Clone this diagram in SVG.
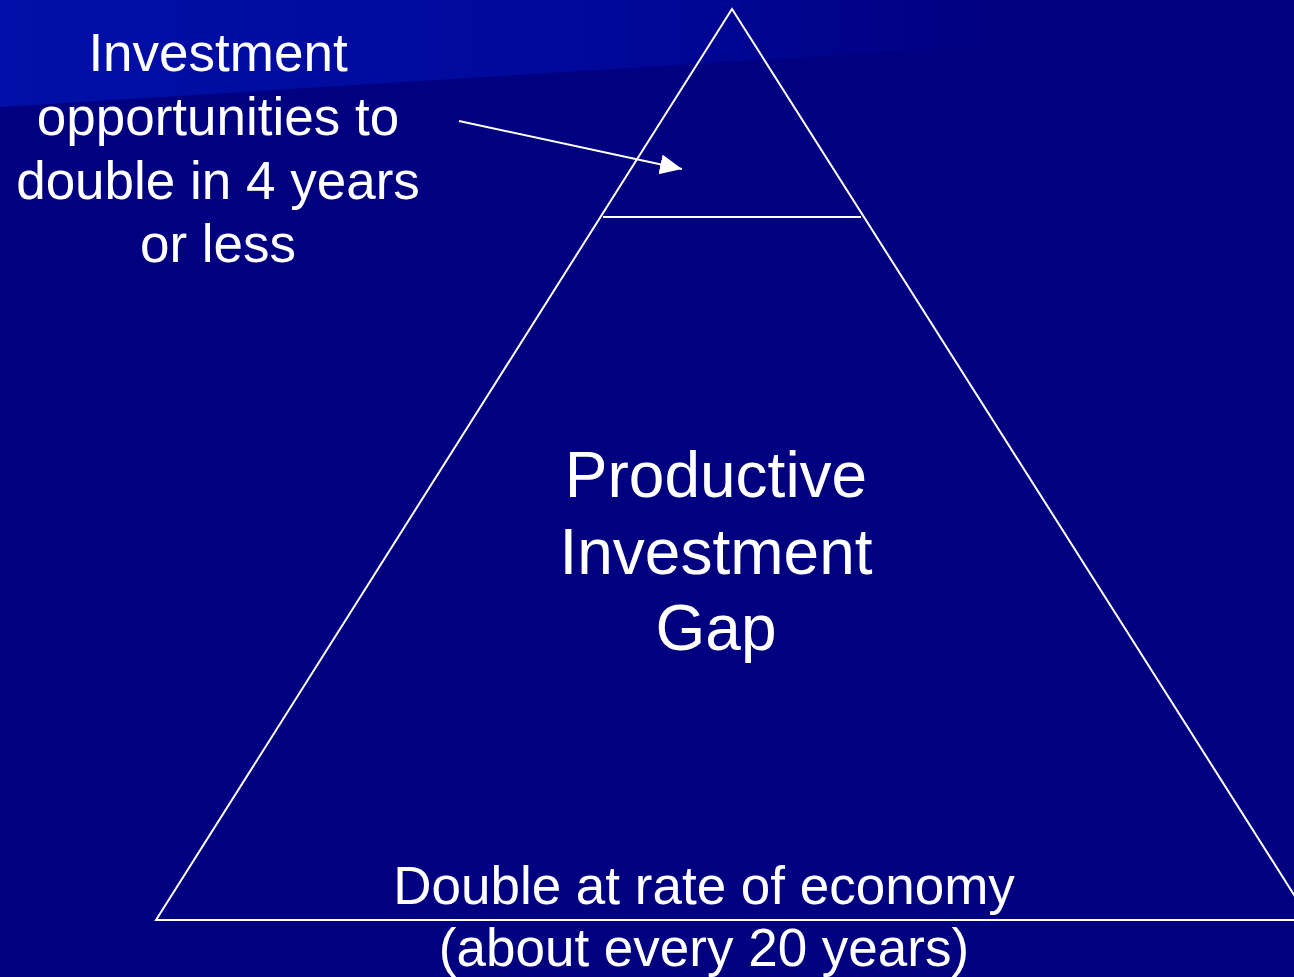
<svg xmlns="http://www.w3.org/2000/svg" width="1294" height="977" viewBox="0 0 1294 977">
<defs>
<linearGradient id="band" x1="0" y1="0" x2="1" y2="0">
<stop offset="0" stop-color="#0010A8"/>
<stop offset="0.6" stop-color="#00089A"/>
<stop offset="1" stop-color="#000080"/>
</linearGradient>
<marker id="ah" markerWidth="24" markerHeight="22" refX="22" refY="10" orient="auto" markerUnits="userSpaceOnUse">
<path d="M0,0 L22,10 L0,20 Z" fill="#FFFFFF"/>
</marker>
<style>
.t{font-family:"Liberation Sans",Arial,sans-serif;fill:#FFFFFF;text-anchor:middle}
.ln{stroke:#FFFFFF;stroke-width:2;fill:none}
</style>
</defs>
<rect width="1294" height="977" fill="#000080"/>
<polygon points="0,0 1000,0 1000,45 0,107" fill="url(#band)"/>
<g id="pyramid">
<polygon class="ln" points="732,9 156,920 1310,920"/>
<line class="ln" x1="1294" y1="920" x2="1310" y2="920"/>
<line class="ln" x1="603" y1="217" x2="861" y2="217"/>
</g>
<g id="connectors">
<line class="ln" x1="459" y1="121" x2="682" y2="169" marker-end="url(#ah)"/>
</g>
<g id="label-top">
<text class="t" font-size="53" x="218" y="71">Investment</text>
<text class="t" font-size="53" x="218" y="135">opportunities to</text>
<text class="t" font-size="53" x="218" y="199">double in 4 years</text>
<text class="t" font-size="53" x="218" y="262">or less</text>
</g>
<g id="label-middle">
<text class="t" font-size="64" x="716" y="497">Productive</text>
<text class="t" font-size="64" x="716" y="574">Investment</text>
<text class="t" font-size="64" x="716" y="650">Gap</text>
</g>
<g id="label-bottom">
<text class="t" font-size="53" x="704" y="904">Double at rate of economy</text>
<text class="t" font-size="53" x="704" y="966">(about every 20 years)</text>
</g>
</svg>
